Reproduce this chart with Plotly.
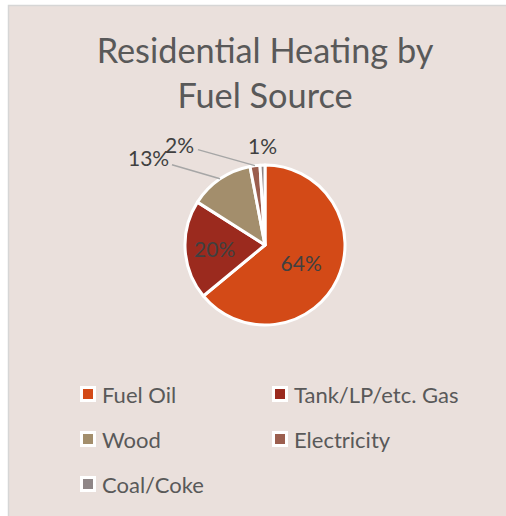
import math
import plotly.graph_objects as go

categories = ["Fuel Oil", "Tank/LP/etc. Gas", "Wood", "Electricity", "Coal/Coke"]
values = [64, 20, 13, 2, 1]
colors = ["#D34A17", "#9B2A1E", "#A38E6C", "#9B5E4E", "#8F8687"]
inside_label = [True, True, False, False, False]
title_text = "Residential Heating by<br>Fuel Source"

W, H = 506, 516
BG = "#EAE0DC"
TXT = "#595959"
LBL = "#404040"
FONT = "Lato"

# pie geometry (pixels)
PCX, PCY, PR = 265, 245, 80
# outside-label offsets (pixels, from the slice edge) and leader visibility
out_offsets = {2: (-72, -21), 3: (-75, -21), 4: (0, -20)}
out_leader = {2: True, 3: True, 4: False}

def px(x):
    return x / W

def py(y):
    return 1 - y / H

total = sum(values)
pct_text = [f"{v / total * 100:.0f}%" for v in values]

fig = go.Figure()
fig.add_trace(go.Pie(
    labels=categories,
    values=values,
    sort=False,
    direction="clockwise",
    rotation=0,
    marker=dict(colors=colors, line=dict(color="white", width=3)),
    text=[t if ins else "" for t, ins in zip(pct_text, inside_label)],
    textinfo="text",
    textposition="inside",
    insidetextorientation="horizontal",
    textfont=dict(family=FONT, size=21, color=LBL),
    domain=dict(x=[px(PCX - PR), px(PCX + PR)], y=[py(PCY + PR), py(PCY - PR)]),
    showlegend=False,
    hoverinfo="label+percent",
))

annotations = []
cum = 0
for i, v in enumerate(values):
    mid = (cum + v / 2) / total * 2 * math.pi
    cum += v
    if inside_label[i]:
        continue
    ex = PCX + PR * math.sin(mid)
    ey = PCY - PR * math.cos(mid)
    dx, dy = out_offsets[i]
    annotations.append(dict(
        text=pct_text[i], xref="paper", yref="paper", x=px(ex), y=py(ey),
        ax=dx, ay=dy, showarrow=True, arrowhead=0, arrowwidth=1.5,
        arrowcolor="#A6A6A6" if out_leader[i] else "rgba(0,0,0,0)",
        standoff=0, startstandoff=2,
        font=dict(family=FONT, size=21, color=LBL)))

shapes = [dict(type="rect", xref="paper", yref="paper",
               x0=px(8.5), x1=px(520), y0=py(530), y1=py(5.5),
               fillcolor=BG, line=dict(color="#D6D6D6", width=1.5), layer="below")]
col_x = [88, 280]
row_y = [394, 439, 484]
for i, (cat, col) in enumerate(zip(categories, colors)):
    cx = col_x[i % 2]
    cy = row_y[i // 2]
    shapes.append(dict(type="rect", xref="paper", yref="paper",
                       x0=px(cx - 6.5), x1=px(cx + 6.5), y0=py(cy + 6.5), y1=py(cy - 6.5),
                       fillcolor=col, line=dict(color="white", width=3), layer="above"))
    annotations.append(dict(text=cat, xref="paper", yref="paper", x=px(cx + 12), y=py(cy),
                            xanchor="left", yanchor="middle", showarrow=False,
                            font=dict(family=FONT, size=22, color=TXT)))

fig.update_layout(
    width=W, height=H,
    margin=dict(l=0, r=0, t=0, b=0),
    paper_bgcolor="white",
    plot_bgcolor="white",
    title=dict(text=title_text, x=px(265), xanchor="center", y=py(63), yanchor="middle",
               font=dict(family=FONT, size=34.3, color=TXT)),
    shapes=shapes,
    annotations=annotations,
)

fig.write_html("out.html",
               config={"displayModeBar": False},
               post_script="document.body.style.margin='0px';document.body.style.overflow='hidden';")
